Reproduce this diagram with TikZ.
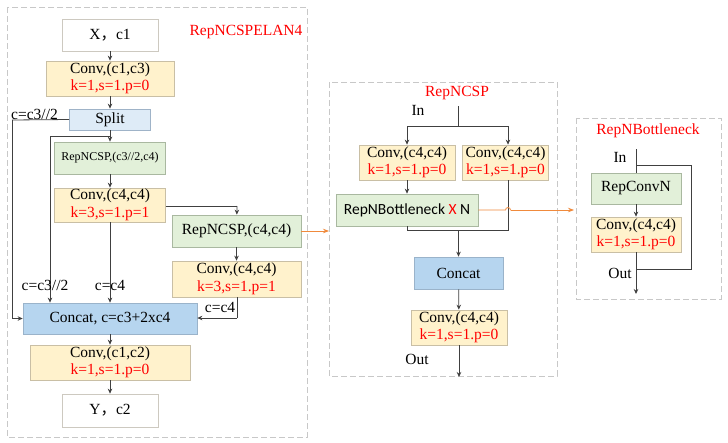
\documentclass[tikz,border=0pt]{standalone}
\usepackage{fontspec}
\setmainfont{Liberation Serif}
\newfontfamily\calib{Carlito}
\newfontfamily\cjk{Noto Sans CJK SC}
\usetikzlibrary{arrows.meta}
\definecolor{yfill}{HTML}{FFF2CC}
\definecolor{ydraw}{HTML}{C9BFA5}
\definecolor{gfill}{HTML}{E2F0D9}
\definecolor{gdraw}{HTML}{A9B8A0}
\definecolor{bfill}{HTML}{DEEBF7}
\definecolor{bdraw}{HTML}{9FB3C8}
\definecolor{cfill}{HTML}{B6D5EF}
\definecolor{cdraw}{HTML}{9AB3CA}
\definecolor{lnc}{HTML}{404040}
\definecolor{dashc}{HTML}{C8C8C8}
\definecolor{orng}{HTML}{F08A3C}
\definecolor{redt}{HTML}{FF0000}
\begin{document}
\begin{tikzpicture}[x=1pt,y=-1pt,
  font=\fontsize{15.5}{18.5}\selectfont,
  box/.style={rectangle,draw,inner sep=0pt,align=center,line width=0.7pt},
  ybox/.style={box,fill=yfill,draw=ydraw},
  gbox/.style={box,fill=gfill,draw=gdraw},
  bbox/.style={box,fill=bfill,draw=bdraw},
  cbox/.style={box,fill=cfill,draw=cdraw},
  wbox/.style={box,fill=white,draw=ydraw!60!gray!60},
  frame/.style={draw=dashc,dashed,dash pattern=on 6pt off 3pt,line width=0.8pt},
  ln/.style={draw=lnc,line width=0.8pt},
  arr/.style={ln,-{Stealth[length=5pt,width=4.5pt]}},
  oarr/.style={draw=orng,line width=0.8pt,-{Stealth[length=6pt,width=4.5pt]}},
  ttl/.style={text=redt,inner sep=0pt},
  lbl/.style={inner sep=0pt}
]
\useasboundingbox (0,0) rectangle (728,442);
\fill[white] (0,0) rectangle (728,442);

% frames
\draw[frame] (7,7) rectangle (307,437);
\draw[frame] (329,82) rectangle (557,376);
\draw[frame] (576,118) rectangle (721,299);

% ===== RepNCSPELAN4 =====
\node[ttl] (t1) at (246,32) {RepNCSPELAN4};
\node[wbox,minimum width=96pt,minimum height=32pt] (x) at (110,35) {X{\cjk ，}c1};
\node[ybox,minimum width=128pt,minimum height=35pt] (c1) at (110,78.5) {Conv,(c1,c3)\\[-1pt]\textcolor{redt}{k=1,s=1.p=0}};
\node[bbox,minimum width=81pt,minimum height=21pt] (sp) at (110,119.5) {Split};
\node[gbox,minimum width=111pt,minimum height=32pt,font=\fontsize{12}{14}\selectfont] (r1) at (110,158) {RepNCSP,(c3//2,c4)};
\node[ybox,minimum width=111pt,minimum height=34pt] (c2) at (110,205) {Conv,(c4,c4)\\[-1pt]\textcolor{redt}{k=3,s=1.p=1}};
\node[gbox,minimum width=129pt,minimum height=32pt] (r2) at (236.5,231) {RepNCSP,(c4,c4)};
\node[ybox,minimum width=129pt,minimum height=36pt] (c3) at (236.5,279) {Conv,(c4,c4)\\[-1pt]\textcolor{redt}{k=3,s=1.p=1}};
\node[cbox,minimum width=174pt,minimum height=31pt] (cc) at (110,318.5) {Concat, c=c3+2xc4};
\node[ybox,minimum width=160pt,minimum height=35pt] (c4) at (110,362.5) {Conv,(c1,c2)\\[-1pt]\textcolor{redt}{k=1,s=1.p=0}};
\node[wbox,minimum width=96pt,minimum height=33pt] (y) at (110,410.5) {Y{\cjk ，}c2};

\coordinate (sl) at (12,120);
\coordinate (sb) at (110,136);
\coordinate (sbl) at (50,136);
\coordinate (c3r) at (237,318);
\coordinate (c2r) at (237,206);

\draw[arr] (x) -- (c1);
\draw[arr] (c1) -- (sp);
\draw[ln] (sp.west) -- (sl);
\draw[arr] (sl) |- (cc.west);
\draw[arr] (sp) -- (r1);
\draw[ln] (sb) -- (sbl);
\draw[arr] (sbl) -- (sbl |- cc.north);
\draw[arr] (r1) -- (c2);
\draw[arr] (c2) -- (cc);
\draw[ln] (c2.east |- c2r) -- (c2r);
\draw[arr] (c2r) -- (r2);
\draw[arr] (r2) -- (c3);
\draw[ln] (c3.south -| c3r) -- (c3r);
\draw[arr] (c3r) -- (cc.east |- c3r);
\draw[arr] (cc) -- (c4);
\draw[arr] (c4) -- (y);

\node[lbl] (l1) at (34.5,114.5) {c=c3//2};
\node[lbl] (l2) at (45,285) {c=c3//2};
\node[lbl] (l3) at (110,285) {c=c4};
\node[lbl] (l4) at (220,307.5) {c=c4};

% ===== RepNCSP =====
\coordinate (o1) at (329,231);
\draw[oarr] (r2.east |- o1) -- (o1);

\node[ttl] (t2) at (457,93) {RepNCSP};
\node[lbl] (in1) at (418,110) {In};
\coordinate (ntop) at (458,106);
\coordinate (nsp) at (458,126);
\coordinate (nl) at (407,126);
\coordinate (nr) at (508,126);
\node[ybox,minimum width=96pt,minimum height=35pt] (nc1) at (407,162.5) {Conv,(c4,c4)\\[-1pt]\textcolor{redt}{k=1,s=1.p=0}};
\node[ybox,minimum width=86pt,minimum height=35pt] (nc2) at (505.5,162.5) {Conv,(c4,c4)\\[-1pt]\textcolor{redt}{k=1,s=1.p=0}};
\node[gbox,minimum width=142pt,minimum height=32pt,font=\calib\fontsize{15.5}{18.5}\selectfont] (nb) at (407,210) {RepNBottleneck \textcolor{redt}{X} N};
\node[cbox,minimum width=89pt,minimum height=32pt] (ncc) at (458.5,273) {Concat};
\node[ybox,minimum width=96pt,minimum height=35pt] (nc3) at (459,327.5) {Conv,(c4,c4)\\[-1pt]\textcolor{redt}{k=1,s=1.p=0}};
\node[lbl] (out1) at (417,359) {Out};
\coordinate (nbl) at (407,230);
\coordinate (nbr) at (508,230);
\coordinate (nbm) at (458.5,230);
\coordinate (nend) at (459,377);

\draw[ln] (ntop) -- (nsp);
\draw[ln] (nl) -- (nr);
\draw[arr] (nl) -- (nc1.north);
\draw[arr] (nr) -- (nr |- nc2.north);
\draw[arr] (nc1) -- (nb);
\draw[ln] (nb.south) -- (nbl) -- (nbr) -- (nr |- nc2.south);
\draw[arr] (nbm) -- (ncc);
\draw[arr] (ncc) -- (nc3);
\draw[arr] (nc3) -- (nend);

% orange with hop
\coordinate (o2) at (574,210);
\draw[draw=orng,line width=0.8pt] (nb.east) -- (505.5,210) arc[start angle=180,end angle=0,radius=2.5pt] -- (511,210);
\draw[oarr] (511,210) -- (o2);

% ===== RepNBottleneck =====
\node[ttl] (t3) at (648,131) {RepNBottleneck};
\node[lbl] (in2) at (620,157) {In};
\node[gbox,minimum width=90pt,minimum height=31pt] (bb1) at (636,188.5) {RepConvN};
\node[ybox,minimum width=90pt,minimum height=35pt] (bb2) at (636,234.5) {Conv,(c4,c4)\\[-1pt]\textcolor{redt}{k=1,s=1.p=0}};
\node[lbl] (out2) at (620,273) {Out};
\coordinate (btop) at (636,149);
\coordinate (bres1) at (636,165);
\coordinate (bres2) at (691,165);
\coordinate (bres3) at (691,269);
\coordinate (bres4) at (636,269);
\coordinate (bend) at (636,294);
\draw[ln] (btop) -- (bb1.north);
\draw[ln] (bres1) -- (bres2) -- (bres3) -- (bres4);
\draw[arr] (bb1) -- (bb2);
\draw[arr] (bb2) -- (bend);
\end{tikzpicture}
\end{document}
